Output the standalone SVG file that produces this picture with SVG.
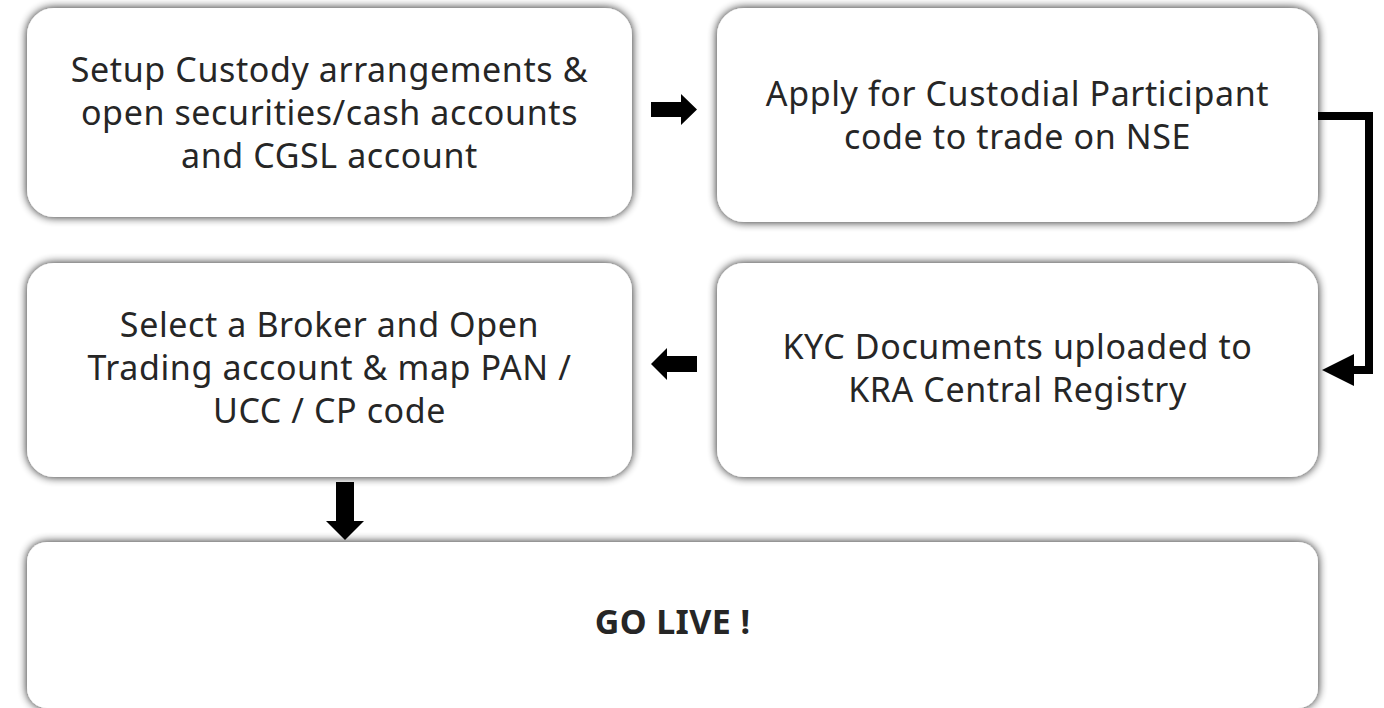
<svg xmlns="http://www.w3.org/2000/svg" width="1384" height="708" viewBox="0 0 1384 708">
  <defs>
    <filter id="sh" x="-10%" y="-20%" width="120%" height="140%">
      <feGaussianBlur in="SourceAlpha" stdDeviation="5"/>
      <feComponentTransfer><feFuncA type="linear" slope="0.9"/></feComponentTransfer>
      <feMerge><feMergeNode/><feMergeNode in="SourceGraphic"/></feMerge>
    </filter>
  </defs>
  <style>
    .box { fill: #ffffff; filter: url(#sh); }
    .t { font-family: "Noto Sans", "Open Sans", sans-serif; font-size: 34px; letter-spacing: 0.6px; fill: #262626; text-anchor: middle; }
    .b { font-weight: bold; letter-spacing: 0.4px; }
    .arr { fill: #000000; }
    .ln { fill: none; stroke: #000000; stroke-width: 8; }
  </style>
  <rect width="1384" height="708" fill="#ffffff"/>
  <g id="node-setup">
    <rect class="box" x="27" y="8" width="605" height="209" rx="27"/>
    <text class="t" x="329.5" y="82">Setup Custody arrangements &amp;</text>
    <text class="t" x="329.5" y="125">open securities/cash accounts</text>
    <text class="t" x="329.5" y="168">and CGSL account</text>
  </g>
  <g id="node-apply">
    <rect class="box" x="717" y="8" width="601" height="214" rx="27"/>
    <text class="t" x="1017.5" y="106">Apply for Custodial Participant</text>
    <text class="t" x="1017.5" y="149">code to trade on NSE</text>
  </g>
  <g id="node-broker">
    <rect class="box" x="27" y="263" width="605" height="214" rx="27"/>
    <text class="t" x="329.5" y="337">Select a Broker and Open</text>
    <text class="t" x="329.5" y="380">Trading account &amp; map PAN /</text>
    <text class="t" x="329.5" y="423">UCC / CP code</text>
  </g>
  <g id="node-kyc">
    <rect class="box" x="717" y="263" width="601" height="214" rx="27"/>
    <text class="t" x="1017.5" y="359">KYC Documents uploaded to</text>
    <text class="t" x="1017.5" y="402">KRA Central Registry</text>
  </g>
  <g id="node-golive">
    <rect class="box" x="27" y="542" width="1291" height="166" rx="20"/>
    <text class="t b" x="672.5" y="634">GO LIVE !</text>
  </g>
  <g id="connectors">
    <polygon class="arr" points="651,102 681,102 681,94 697,109.5 681,125 681,117 651,117"/>
    <polygon class="arr" points="697,356 667,356 667,348 651,364 667,380 667,372 697,372"/>
    <polygon class="arr" points="336,482 354,482 354,521 364,521 345,540 326,521 336,521"/>
    <path class="ln" d="M1318,116 H1369 V370 H1350"/>
    <polygon class="arr" points="1354,354 1322,370 1354,386"/>
  </g>
</svg>
